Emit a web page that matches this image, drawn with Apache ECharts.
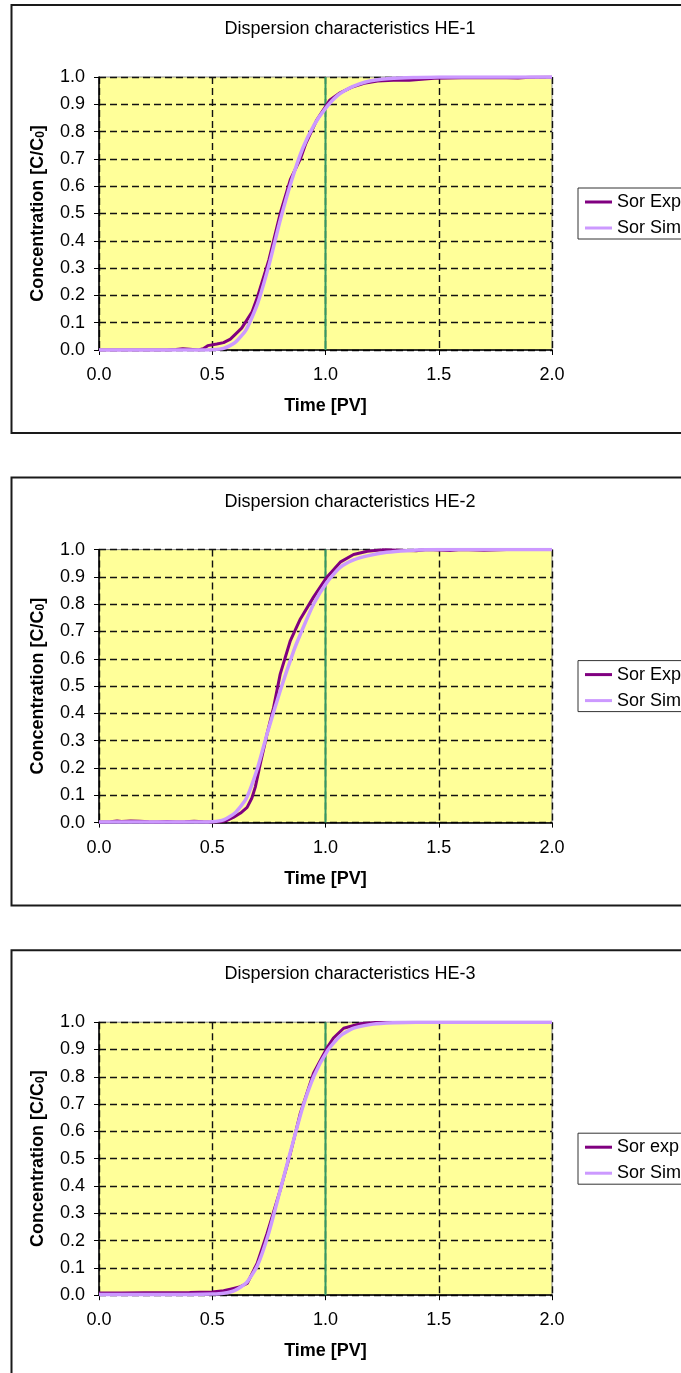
<!DOCTYPE html>
<html>
<head>
<meta charset="utf-8">
<title>Dispersion characteristics</title>
<script src="https://cdn.jsdelivr.net/npm/echarts@6/dist/echarts.min.js"></script>
<style>
  html, body { margin: 0; padding: 0; background: #ffffff; }
  #chart { width: 681px; height: 1373px; }
</style>
</head>
<body>
<div id="chart"></div>
<script>
// Breakthrough curves (C/C0 versus pore volumes) for three samples.
const titles = ['Dispersion characteristics HE-1', 'Dispersion characteristics HE-2', 'Dispersion characteristics HE-3'];
const expNames = ['Sor Exp', 'Sor Exp', 'Sor exp'];
const simName = 'Sor Sim';
const xTicks = [0, 0.5, 1.0, 1.5, 2.0];
const refLineX = 1.0;

// HE-1
const exp1X = [0, 0.30, 0.34, 0.37, 0.40, 0.44, 0.46, 0.48, 0.52, 0.55, 0.58, 0.63, 0.676, 0.70, 0.75, 0.80, 0.845, 0.889, 0.913, 0.96, 1.018, 1.06, 1.114, 1.17, 1.23, 1.30, 1.37, 1.48, 1.60, 1.75, 1.85, 1.90, 2.0];
const exp1Y = [0, 0, 0.002, 0.005, 0.003, 0, 0.005, 0.016, 0.022, 0.027, 0.04, 0.08, 0.14, 0.195, 0.33, 0.50, 0.625, 0.70, 0.756, 0.84, 0.915, 0.94, 0.962, 0.977, 0.985, 0.988, 0.988, 0.995, 0.997, 0.998, 0.996, 0.999, 1.0];
const sim1X = [0, 0.45, 0.5, 0.55, 0.6, 0.65, 0.7, 0.75, 0.8, 0.85, 0.9, 0.95, 1.0, 1.05, 1.1, 1.15, 1.2, 1.3, 1.4, 1.5, 1.75, 2.0];
const sim1Y = [0, 0, 0.001, 0.006, 0.027, 0.075, 0.17, 0.31, 0.475, 0.62, 0.74, 0.825, 0.885, 0.93, 0.957, 0.975, 0.986, 0.995, 0.998, 1.0, 1.0, 1.0];

// HE-2
const exp2X = [0, 0.05, 0.08, 0.10, 0.14, 0.18, 0.22, 0.26, 0.30, 0.34, 0.38, 0.42, 0.46, 0.50, 0.536, 0.565, 0.595, 0.625, 0.654, 0.675, 0.69, 0.712, 0.742, 0.771, 0.80, 0.845, 0.889, 0.947, 1.006, 1.065, 1.124, 1.185, 1.25, 1.40, 1.45, 1.55, 1.60, 1.70, 1.80, 2.0];
const exp2Y = [0.002, 0.003, 0.006, 0.004, 0.006, 0.005, 0.003, 0.002, 0.004, 0.002, 0.003, 0.005, 0.003, 0.002, 0.003, 0.008, 0.02, 0.035, 0.056, 0.09, 0.13, 0.215, 0.325, 0.422, 0.544, 0.667, 0.746, 0.826, 0.899, 0.954, 0.982, 0.994, 0.999, 0.996, 1.0, 0.997, 1.0, 0.998, 1.0, 1.0];
const sim2X = [0, 0.45, 0.5, 0.55, 0.6, 0.65, 0.7, 0.742, 0.8, 0.86, 0.889, 0.947, 1.006, 1.065, 1.124, 1.185, 1.27, 1.36, 1.5, 2.0];
const sim2Y = [0.002, 0.002, 0.003, 0.01, 0.035, 0.088, 0.20, 0.325, 0.483, 0.63, 0.69, 0.80, 0.88, 0.935, 0.962, 0.977, 0.99, 0.996, 1.0, 1.0];

// HE-3
const exp3X = [0, 0.1, 0.2, 0.3, 0.4, 0.5, 0.55, 0.58, 0.62, 0.654, 0.698, 0.742, 0.80, 0.845, 0.889, 0.947, 1.006, 1.035, 1.08, 1.15, 1.22, 1.3, 2.0];
const exp3Y = [0.008, 0.008, 0.009, 0.009, 0.01, 0.012, 0.016, 0.022, 0.03, 0.043, 0.116, 0.226, 0.385, 0.52, 0.667, 0.813, 0.905, 0.942, 0.978, 0.994, 0.999, 1.0, 1.0];
const sim3X = [0, 0.4, 0.5, 0.55, 0.6, 0.65, 0.7, 0.75, 0.8, 0.85, 0.9, 0.95, 1.006, 1.065, 1.124, 1.21, 1.3, 1.4, 2.0];
const sim3Y = [0.003, 0.003, 0.004, 0.007, 0.018, 0.045, 0.11, 0.23, 0.385, 0.54, 0.69, 0.805, 0.892, 0.95, 0.978, 0.993, 0.998, 1.0, 1.0];

const expSets = [[exp1X, exp1Y], [exp2X, exp2Y], [exp3X, exp3Y]];
const simSets = [[sim1X, sim1Y], [sim2X, sim2Y], [sim3X, sim3Y]];

const FONT = '"Liberation Sans", Arial, sans-serif';
const EXP_COLOR = '#800080';
const SIM_COLOR = '#CC99FF';
const GREEN = '#339966';
const PANEL_STEP = 472.6;

const pairs = (xs, ys) => xs.map((x, i) => [x, ys[i]]);

const grids = [], xAxes = [], yAxes = [], series = [], legends = [], titleList = [], graphics = [];

for (let i = 0; i < 3; i++) {
  const off = PANEL_STEP * i;

  // outer frame of each chart panel (runs past the right edge)
  graphics.push({
    type: 'rect', z: -10,
    shape: { x: 11.5, y: 5 + off, width: 720, height: 428 },
    style: { fill: 'none', stroke: '#1a1a1a', lineWidth: 2 }
  });

  titleList.push({
    text: titles[i], left: 350, top: 20 + off, textAlign: 'center', padding: 0,
    textStyle: { fontFamily: FONT, fontSize: 18, fontWeight: 'normal', color: '#000' }
  });

  grids.push({
    left: 99, width: 453, top: 77 + off, height: 273,
    show: true, backgroundColor: '#FFFF99', borderColor: '#8c8c8c', borderWidth: 1
  });

  xAxes.push({
    type: 'value', gridIndex: i, min: xTicks[0], max: xTicks[xTicks.length - 1], interval: xTicks[1] - xTicks[0],
    name: 'Time [PV]', nameLocation: 'middle', nameGap: 47,
    nameTextStyle: { fontFamily: FONT, fontSize: 18, fontWeight: 'bold', color: '#000' },
    axisLine: { show: true, onZero: false, lineStyle: { color: '#000', width: 1.5 } },
    axisTick: { show: true, inside: false, length: 5, lineStyle: { color: '#000', width: 1 } },
    axisLabel: { margin: 16, fontFamily: FONT, fontSize: 18, color: '#000', formatter: v => v.toFixed(1) },
    splitLine: { show: true, lineStyle: { color: '#111', width: 1.4, type: [7, 4] } }
  });

  yAxes.push({
    type: 'value', gridIndex: i, min: 0, max: 1, interval: 0.1,
    name: 'Concentration [C/C{sub|0}]', nameLocation: 'middle', nameGap: 52, nameRotate: 90,
    nameTextStyle: {
      fontFamily: FONT, fontSize: 18, fontWeight: 'bold', color: '#000',
      rich: { sub: { fontFamily: FONT, fontSize: 12, fontWeight: 'bold', color: '#000', verticalAlign: 'bottom', padding: [6, 0, 0, 0] } }
    },
    axisLine: { show: true, onZero: false, lineStyle: { color: '#000', width: 1.5 } },
    axisTick: { show: true, inside: false, length: 5, lineStyle: { color: '#000', width: 1 } },
    axisLabel: { margin: 14, fontFamily: FONT, fontSize: 18, color: '#000', formatter: v => v.toFixed(1) },
    splitLine: { show: true, lineStyle: { color: '#111', width: 1.4, type: [7, 4] } }
  });

  // vertical reference line at one pore volume
  series.push({
    type: 'line', xAxisIndex: i, yAxisIndex: i, silent: true, showSymbol: false, z: 2,
    data: [[refLineX, 0], [refLineX, 1]],
    lineStyle: { color: GREEN, width: 2 }, itemStyle: { color: GREEN }
  });

  series.push({
    name: expNames[i], type: 'line', xAxisIndex: i, yAxisIndex: i, showSymbol: false, z: 3,
    data: pairs(expSets[i][0], expSets[i][1]),
    lineStyle: { color: EXP_COLOR, width: 3 }, itemStyle: { color: EXP_COLOR }
  });

  series.push({
    name: simName, type: 'line', xAxisIndex: i, yAxisIndex: i, showSymbol: false, z: 4,
    smooth: 0.2,
    data: pairs(simSets[i][0], simSets[i][1]),
    lineStyle: { color: SIM_COLOR, width: 3.5 }, itemStyle: { color: SIM_COLOR }
  });

  legends.push({
    data: [expNames[i], simName], orient: 'vertical', left: 578, top: 188 + off,
    icon: 'rect', itemWidth: 27, itemHeight: 3, itemGap: 8,
    padding: [5, 40, 2, 7], backgroundColor: '#fff', borderColor: '#333', borderWidth: 1, borderRadius: 0,
    selectedMode: false,
    textStyle: { fontFamily: FONT, fontSize: 18, color: '#000' }
  });
}

const chart = echarts.init(document.getElementById('chart'), null, { renderer: 'canvas' });
chart.setOption({
  backgroundColor: '#ffffff',
  animation: false,
  title: titleList,
  grid: grids,
  xAxis: xAxes,
  yAxis: yAxes,
  legend: legends,
  graphic: graphics,
  series: series
});
</script>
</body>
</html>
